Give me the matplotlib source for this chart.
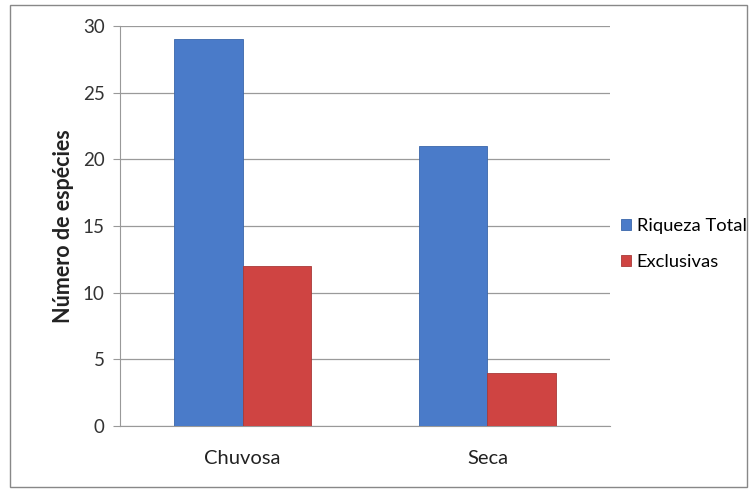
import matplotlib
matplotlib.use('Agg')
import matplotlib.pyplot as plt
import numpy as np
from matplotlib.patches import Rectangle

estacoes = ['Chuvosa', 'Seca']
riqueza_total = [29, 21]
exclusivas = [12, 4]
series_labels = ['Riqueza Total', 'Exclusivas']
yticks = [0, 5, 10, 15, 20, 25, 30]

plt.rcParams['font.family'] = ['Lato', 'DejaVu Sans']

fig = plt.figure(figsize=(7.53, 4.95), dpi=100)
ax = fig.add_axes([0.1594, 0.1394, 0.6506, 0.8081])

x = np.arange(len(estacoes))
w = 0.28
ax.bar(x - w / 2, riqueza_total, w, color='#4A7BC9', edgecolor='#3A66AA', linewidth=0.6,
       label=series_labels[0], zorder=3)
ax.bar(x + w / 2, exclusivas, w, color='#CF4442', edgecolor='#A83A38', linewidth=0.6,
       label=series_labels[1], zorder=3)

ax.set_xlim(-0.5, 1.5)
ax.set_ylim(0, 30)
ax.set_yticks(yticks)
ax.set_xticks(x)
ax.set_xticklabels(estacoes, fontsize=14.5)
ax.tick_params(axis='x', length=0, pad=17)
ax.tick_params(axis='y', labelsize=13.5, length=5, color='#999999', pad=6, labelcolor='#333333')
for lbl in ax.get_xticklabels():
    lbl.set_color('#222222')

ax.grid(axis='y', color='#9a9a9a', linewidth=0.9, zorder=0)
for s in ['top', 'right']:
    ax.spines[s].set_visible(False)
ax.spines['left'].set_color('#999999')
ax.spines['bottom'].set_color('#999999')

ax.set_ylabel('Número de espécies', fontsize=15.5, fontweight='bold', color='#222222', labelpad=6)

ax.legend(loc='center left', bbox_to_anchor=(1.0, 0.455), frameon=False, fontsize=13.2,
          handlelength=0.55, handleheight=0.55, handletextpad=0.3, labelspacing=1.05,
          borderaxespad=0.2)

# thin frame around the whole chart
fig.patches.append(Rectangle((10 / 753, 1 - 487 / 495), 737 / 753, 482 / 495,
                             transform=fig.transFigure, fill=False,
                             edgecolor='#888888', linewidth=1.0))

fig.savefig('out.png', dpi=100)
plt.close(fig)
